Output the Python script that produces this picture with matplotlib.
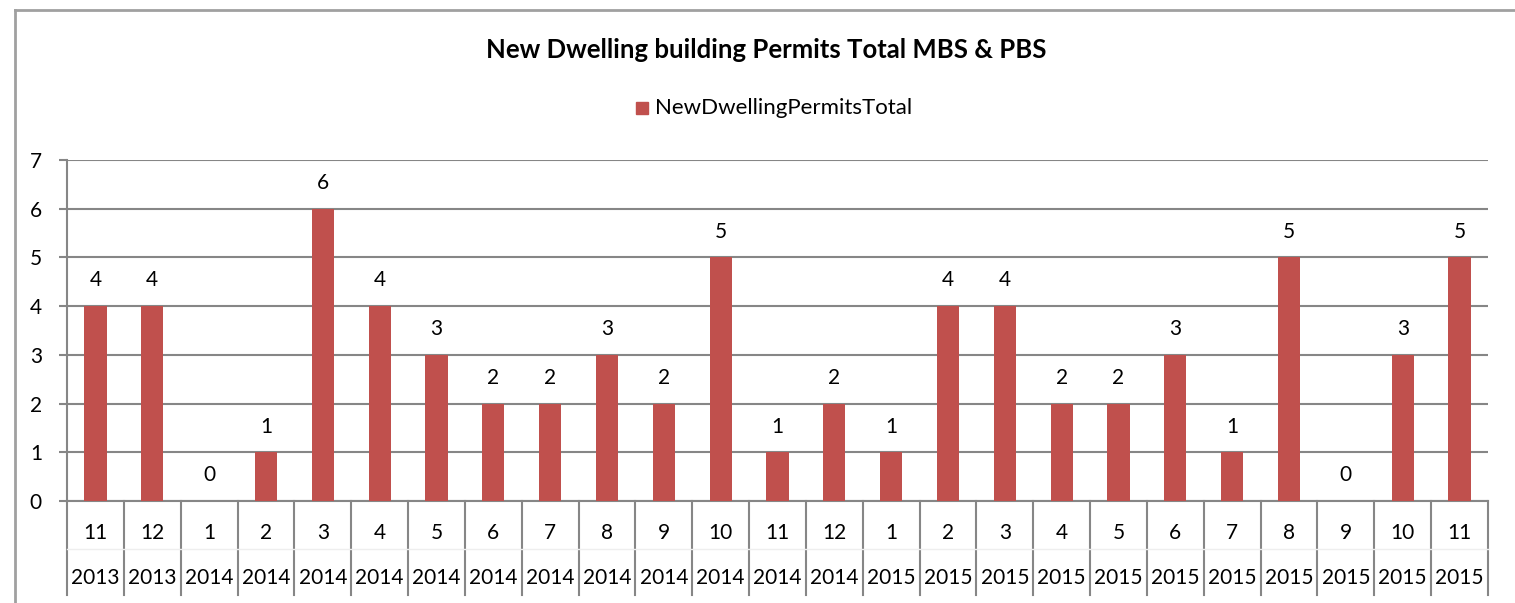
import matplotlib
matplotlib.use("Agg")
import matplotlib.pyplot as plt
import matplotlib.transforms as mtransforms
from matplotlib.lines import Line2D

plt.rcParams['font.family'] = ['Lato', 'DejaVu Sans']

months = ["11", "12", "1", "2", "3", "4", "5", "6", "7", "8", "9", "10", "11",
          "12", "1", "2", "3", "4", "5", "6", "7", "8", "9", "10", "11"]
years = ["2013", "2013"] + ["2014"] * 12 + ["2015"] * 11
permits = [4, 4, 0, 1, 6, 4, 3, 2, 2, 3, 2, 5, 1, 2, 1, 4, 4, 2, 2, 3, 1, 5, 0, 3, 5]

BAR = "#C0504D"
GRID = "#868686"
FS = 15

W, H = 1515, 603
fig = plt.figure(figsize=(W / 100, H / 100), dpi=100)

# plot area in pixels
left, right, top, bottom = 67, 1488, 160, 501
ax = fig.add_axes([left / W, 1 - bottom / H, (right - left) / W, (bottom - top) / H])

x = list(range(len(permits)))
ax.bar(x, permits, width=0.39, color=BAR, zorder=3)
ax.set_xlim(-0.5, len(permits) - 0.5)
ax.set_ylim(0, 7)
ax.set_yticks(range(0, 8))
ax.yaxis.grid(True, color=GRID, linewidth=1.5, zorder=0)
ax.set_xticks([])
ax.tick_params(axis="y", length=6, width=1.5, color=GRID, labelsize=FS, pad=12)
for s in ["top", "right"]:
    ax.spines[s].set_visible(False)
for s in ["left", "bottom"]:
    ax.spines[s].set_color(GRID)
    ax.spines[s].set_linewidth(1.5)

# value labels
for xi, v in zip(x, permits):
    ax.annotate(str(v), (xi, v), xytext=(0, 18.5), textcoords="offset points",
                ha="center", va="center", fontsize=FS)

# two-level category axis
h = bottom - top
trans = mtransforms.blended_transform_factory(ax.transData, ax.transAxes)
for i in range(len(permits) + 1):
    ax.add_line(Line2D([i - 0.5, i - 0.5], [0, -94 / h], transform=trans,
                       color=GRID, linewidth=1.5, clip_on=False))
for xi, m, yr in zip(x, months, years):
    ax.text(xi, -32 / h, m, transform=trans, ha="center", va="center", fontsize=FS)
    ax.text(xi, -77 / h, yr, transform=trans, ha="center", va="center", fontsize=FS)
ax.add_line(Line2D([-0.5, len(permits) - 0.5], [-48 / h, -48 / h], transform=trans,
                   color="#EEEEEE", linewidth=1, clip_on=False))

# title and legend
fig.text(766 / W, 1 - 50 / H, "New Dwelling building Permits Total MBS & PBS",
         ha="center", va="center", fontsize=18.5, fontweight="bold")
fig.patches.append(plt.Rectangle((636 / W, 1 - 114 / H), 12 / W, 12 / H,
                                 transform=fig.transFigure, color=BAR))
fig.text(655 / W, 1 - 108 / H, "NewDwellingPermitsTotal", ha="left", va="center",
         fontsize=16)

# outer chart border (clipped at right/bottom)
fig.add_artist(Line2D([15 / W, 15 / W], [0, 1 - 10 / H], transform=fig.transFigure,
                      color="#A0A0A0", linewidth=2))
fig.add_artist(Line2D([15 / W, 1], [1 - 10 / H, 1 - 10 / H], transform=fig.transFigure,
                      color="#A0A0A0", linewidth=2))

fig.savefig("out.png", dpi=100)
